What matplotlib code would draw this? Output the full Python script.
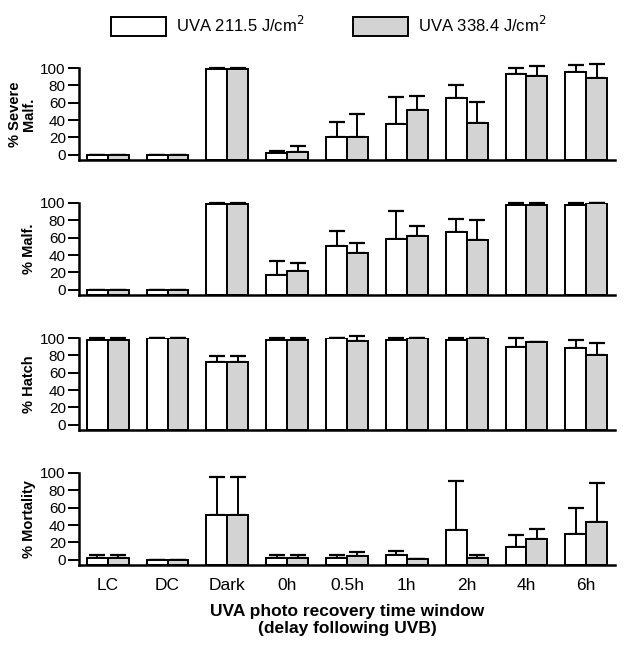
import numpy as np
import matplotlib
matplotlib.use("Agg")
import matplotlib.pyplot as plt
from matplotlib.patches import Patch

plt.rcParams["font.family"] = ["Liberation Sans", "DejaVu Sans"]

categories = ["LC", "DC", "Dark", "0h", "0.5h", "1h", "2h", "4h", "6h"]
series_names = ["UVA 211.5 J/cm$^2$", "UVA 338.4 J/cm$^2$"]

# % Severe malformation
severe_low = [0, 0, 99, 2, 20, 36, 65, 93, 95]
severe_low_err = [0, 0, 1, 2, 18, 31, 15, 7, 8]
severe_high = [0, 0, 99, 3, 20, 52, 37, 91, 89]
severe_high_err = [0, 0, 1, 7, 27, 16, 24, 11, 16]

# % Malformation
malf_low = [0, 0, 99, 17, 50, 58, 67, 98, 98]
malf_low_err = [0, 0, 1, 16, 18, 33, 15, 2, 2]
malf_high = [0, 0, 99, 22, 42, 62, 57, 98, 99.5]
malf_high_err = [0, 0, 1, 9, 12, 11, 23, 2, 0]

# % Hatch
hatch_low = [98, 100, 72, 98, 100, 98, 98, 90, 88]
hatch_low_err = [2, 0, 7, 2, 0, 2, 2, 10, 10]
hatch_high = [98, 100, 72, 98, 97, 100, 100, 95, 80]
hatch_high_err = [2, 0, 7, 2, 5, 0, 0, 0, 14]

# % Mortality
mort_low = [2, 0, 52, 2, 2, 5, 34, 15, 30]
mort_low_err = [3, 0, 43, 3, 3, 5, 57, 13, 30]
mort_high = [2, 0, 52, 2, 4, 0.5, 2, 24, 43]
mort_high_err = [3, 0, 43, 3, 5, 0, 3, 11, 45]

panels = [
    ("% Severe\nMalf.", severe_low, severe_low_err, severe_high, severe_high_err),
    ("% Malf.", malf_low, malf_low_err, malf_high, malf_high_err),
    ("% Hatch", hatch_low, hatch_low_err, hatch_high, hatch_high_err),
    ("% Mortality", mort_low, mort_low_err, mort_high, mort_high_err),
]

colors = ["white", "#d3d3d3"]
base = -6
width = 0.35
W, H = 624, 649

fig = plt.figure(figsize=(W / 100, H / 100), dpi=100)

# axes boxes in pixels (left, top-of-100, bottom spine)
left_px, right_px = 79, 615
tops = [68, 203, 338, 473]
height_px = 92

x = np.arange(len(categories))

for i, (label, lo, lo_err, hi, hi_err) in enumerate(panels):
    top = tops[i]
    ax = fig.add_axes([left_px / W, 1 - (top + height_px) / H,
                       (right_px - left_px) / W, height_px / H])
    for vals, errs, col, off in [(lo, lo_err, colors[0], -width / 2),
                                 (hi, hi_err, colors[1], width / 2)]:
        vals = np.array(vals, dtype=float)
        ax.bar(x + off, vals - base, bottom=base, width=width, color=col,
               edgecolor="black", linewidth=1.4, zorder=2)
        errs = np.array(errs, dtype=float)
        eb = ax.errorbar(x + off, vals, yerr=[np.zeros_like(errs), errs],
                         fmt="none", ecolor="black", elinewidth=1.4,
                         capsize=5.5, capthick=1.6, zorder=1)
        for art in eb.lines[1] + eb.lines[2]:
            art.set_clip_on(False)
    ax.set_xlim(-0.48, len(categories) - 0.52)
    ax.set_ylim(base, 100)
    ax.set_yticks([0, 20, 40, 60, 80, 100])
    ax.spines["top"].set_visible(False)
    ax.spines["right"].set_visible(False)
    ax.spines["left"].set_linewidth(1.8)
    ax.spines["bottom"].set_linewidth(1.8)
    ax.tick_params(axis="y", direction="out", length=8, width=1.4,
                   labelsize=11, pad=1.5)
    ax.tick_params(axis="x", length=0)
    ax.set_ylabel(label, fontsize=10.5, fontweight="bold", linespacing=1.0)
    ax.yaxis.set_label_coords(-0.08, 0.5)
    ax.set_xticks(x)
    if i == len(panels) - 1:
        ax.set_xticklabels(categories, fontsize=12.5)
        ax.tick_params(axis="x", pad=9)
        ax.set_xlabel("UVA photo recovery time window\n(delay following UVB)",
                      fontsize=12.5, fontweight="bold", labelpad=8)
    else:
        ax.set_xticklabels([])

handles = [Patch(facecolor=c, edgecolor="black", linewidth=1.4) for c in colors]
fig.legend(handles, series_names, loc="upper center", ncol=2,
           bbox_to_anchor=(0.527, 1.0), frameon=False, fontsize=12,
           handlelength=3.3, handleheight=1.3, columnspacing=2.9,
           handletextpad=0.6)

fig.savefig("out.png", dpi=100)
